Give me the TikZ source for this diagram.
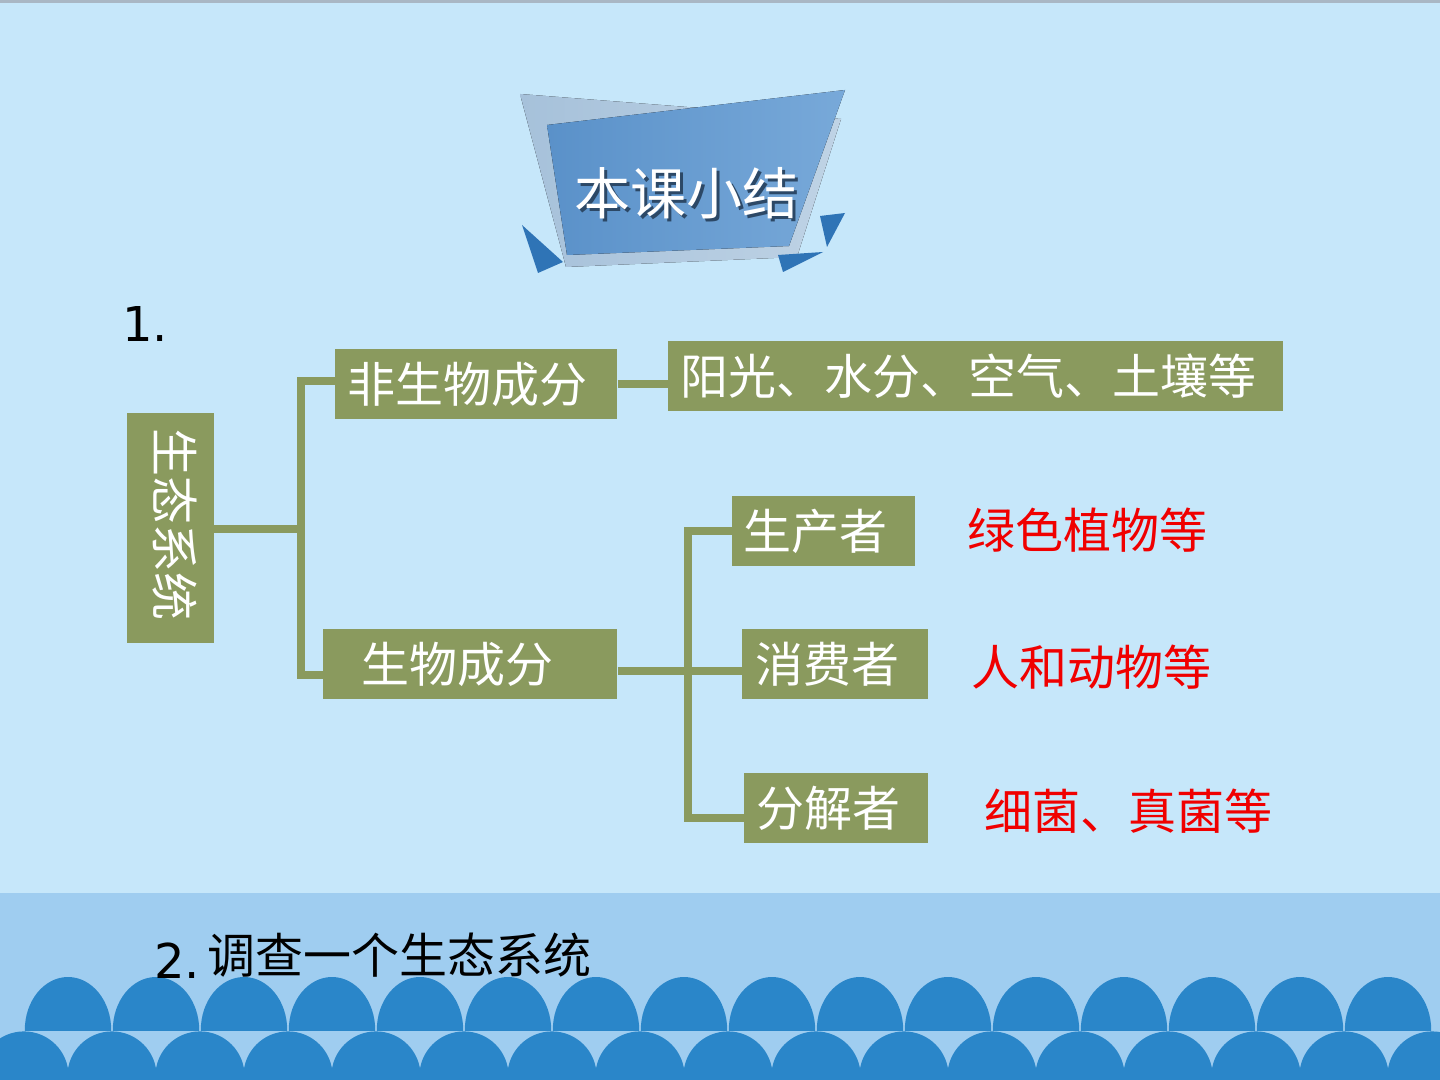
\documentclass[tikz,border=0pt]{standalone}
\usepackage{fontspec}
\usepackage{graphicx}
\newfontfamily\cjk{Noto Sans CJK SC}
\newfontfamily\dvs{DejaVu Sans}
\definecolor{bgtop}{HTML}{C6E7FA}
\definecolor{band}{HTML}{9FCDF0}
\definecolor{topline}{HTML}{A9B7C4}
\definecolor{dome}{HTML}{2A86C9}
\definecolor{olive}{HTML}{8A9A5E}
\definecolor{backL}{HTML}{A6C1DA}
\definecolor{backR}{HTML}{BFD3E5}
\definecolor{blueL}{HTML}{5A91C9}
\definecolor{blueR}{HTML}{78A9D9}
\definecolor{tri}{HTML}{2F74B6}
\definecolor{shadowc}{HTML}{2C4866}
\definecolor{redt}{HTML}{F00000}
\tikzset{
  oboxbase/.style={fill=olive, text=white, font=\cjk\fontsize{24}{28}\selectfont},
  obox/.style={oboxbase, inner ysep=0pt, minimum height=35pt, anchor=north west, align=left},
  conn/.style={draw=olive, line width=4pt},
  redtxt/.style={text=redt, font=\cjk\fontsize{24}{28}\selectfont, inner sep=0pt},
  blacktxt/.style={text=black, font=\cjk\fontsize{24}{28}\selectfont, inner sep=0pt},
  numtxt/.style={text=black, font=\dvs\fontsize{24}{28}\selectfont, inner sep=0pt},
  titletxt/.style={font=\cjk\fontsize{28}{32}\selectfont, inner sep=0pt}
}
\begin{document}
\begin{tikzpicture}[x=0.5pt,y=-0.5pt]
\useasboundingbox (0,0) rectangle (1440,1080);
% background
\fill[bgtop] (0,0) rectangle (1440,893);
\fill[band] (0,893) rectangle (1440,1080);
\fill[topline] (0,0) rectangle (1440,3);
% scallops
\begin{scope}
  \clip (0,893) rectangle (1440,1030);
  \foreach \k in {0,...,15} \fill[dome] (68+88*\k,1030) ellipse [x radius=21.6pt, y radius=26.5pt];
\end{scope}
\begin{scope}
  \clip (0,1030) rectangle (1440,1080);
  \foreach \k in {0,...,16} \fill[dome] (24+88*\k,1076) circle [radius=22.3pt];
\end{scope}
% title banner
\fill[left color=backL, right color=backR] (520,94) -- (841,119) -- (797,257) -- (566,267) -- cycle;
\fill[left color=blueL, right color=blueR] (547,125) -- (845,90) -- (789,246) -- (567,255) -- cycle;
\fill[tri] (522,225) -- (563,262) -- (538,273) -- cycle;
\fill[tri] (820,216) -- (845,213) -- (827,247) -- cycle;
\fill[tri] (778,255) -- (823,252) -- (783,272) -- cycle;
\node[titletxt, text=shadowc] (titleshadow) at (689,196) {本课小结};
\node[titletxt, text=white] (title) at (686,193) {本课小结};
% labels
\node[numtxt, anchor=base west] (n1) at (122,342) {1.};
\node[numtxt, anchor=base west] (n2) at (154,978) {2.};
\node[blacktxt] (t2) at (399,955) {调查一个生态系统};
% boxes
\node[oboxbase, minimum width=43.5pt, minimum height=115pt, inner sep=0pt] (eco) at (170.5,528) {\rotatebox{-90}{\raisebox{2.2pt}[\height][\depth]{\hspace*{-2pt}生态系统\hspace*{2pt}}}};
\node[obox, inner xsep=5.8pt, text width=129.4pt] (abio) at (335,349) {非生物成分};
\node[obox, inner xsep=6pt, text width=295.5pt] (abiox) at (668,341) {阳光、水分、空气、土壤等};
\node[obox, inner xsep=18.8pt, text width=109.4pt] (bio) at (323,629) {生物成分};
\node[obox, inner xsep=5.3pt, text width=80.9pt] (prod) at (732,496) {生产者};
\node[obox, inner xsep=6.3pt, text width=80.4pt] (cons) at (742,629) {消费者};
\node[obox, inner xsep=5.8pt, text width=80.4pt] (deco) at (744,773) {分解者};
% red texts
\node[redtxt] (r1) at (1087.5,530) {绿色植物等};
\node[redtxt] (r2) at (1091.5,667) {人和动物等};
\node[redtxt] (r3) at (1128,811) {细菌、真菌等};
% connectors
\coordinate (j1) at (301,529);
\coordinate (b1t) at (301,381);
\coordinate (b1b) at (301,675);
\coordinate (b2t) at (688,531);
\coordinate (b2m) at (688,671);
\coordinate (b2b) at (688,818);
\draw[conn] (eco.east |- j1) -- (j1);
\draw[conn] (abio.west |- b1t) -- (b1t) -- (b1b) -- (bio.west |- b1b);
\draw[conn] (abio.east) -- (abiox.west |- abio.east);
\draw[conn] (prod.west |- b2t) -- (b2t) -- (b2b) -- (deco.west |- b2b);
\draw[conn] (bio.east |- b2m) -- (cons.west |- b2m);
\end{tikzpicture}
\end{document}
